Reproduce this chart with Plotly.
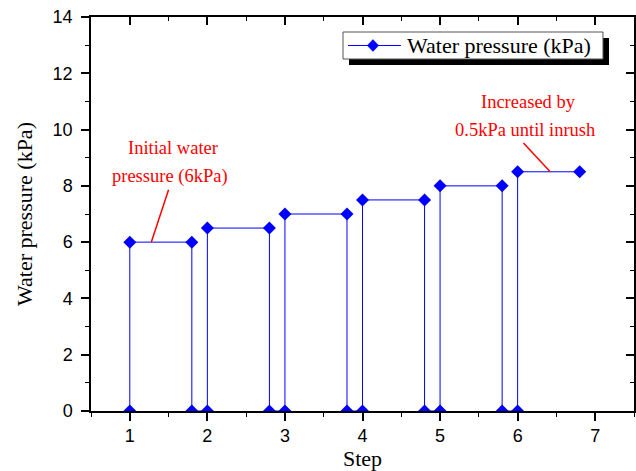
import plotly.graph_objects as go

# Data
step_x = [1, 1, 1.8, 1.8, 2, 2, 2.8, 2.8, 3, 3, 3.8, 3.8,
          4, 4, 4.8, 4.8, 5, 5, 5.8, 5.8, 6, 6, 6.8]
pressure_y = [0, 6, 6, 0, 0, 6.5, 6.5, 0, 0, 7, 7, 0,
              0, 7.5, 7.5, 0, 0, 8, 8, 0, 0, 8.5, 8.5]
x_ticks = [1, 2, 3, 4, 5, 6, 7]
y_ticks = [0, 2, 4, 6, 8, 10, 12, 14]
series_name = "Water pressure (kPa)"

SERIF = "Liberation Serif, Times New Roman, serif"
SANS = "Liberation Sans, Arial, sans-serif"
BLUE = "#0000FF"
RED = "#FF0000"

fig = go.Figure()
fig.add_trace(go.Scatter(
    x=step_x, y=pressure_y, mode="lines+markers",
    name=series_name, showlegend=False,
    line=dict(color=BLUE, width=1),
    marker=dict(symbol="diamond", size=10, color=BLUE),
))
# invisible trace so mirrored top/right axes (inward ticks) are drawn
fig.add_trace(go.Scatter(x=[1], y=[1], xaxis="x2", yaxis="y2", mode="markers",
                         marker=dict(opacity=0), showlegend=False, hoverinfo="skip"))

axis_common = dict(showgrid=False, zeroline=False, showline=True,
                   linecolor="black", linewidth=1.5, automargin=False)

fig.update_layout(
    width=636, height=471,
    margin=dict(l=91, r=2, t=17, b=60),
    paper_bgcolor="white", plot_bgcolor="white",
    showlegend=False,
    xaxis=dict(range=[0.5, 7.5], tickvals=x_ticks, ticks="outside", ticklen=8,
               tickwidth=1.5, tickcolor="black", ticklabelstandoff=0,
               minor=dict(dtick=0.5, ticks="outside", ticklen=4, tickwidth=1.2, tickcolor="black"),
               tickfont=dict(family=SANS, size=18, color="black"),
               title=dict(text="Step", font=dict(family=SERIF, size=22, color="black"), standoff=10),
               **axis_common),
    yaxis=dict(range=[0, 14], tickvals=y_ticks, ticks="outside", ticklen=8,
               tickwidth=1.5, tickcolor="black", ticklabelstandoff=5,
               minor=dict(dtick=1, ticks="outside", ticklen=4, tickwidth=1.2, tickcolor="black"),
               tickfont=dict(family=SANS, size=18, color="black"),
               title=dict(text="Water pressure (kPa)", font=dict(family=SERIF, size=22, color="black"), standoff=14),
               **axis_common),
    xaxis2=dict(range=[0.5, 7.5], overlaying="x", side="top", tickvals=x_ticks,
                ticks="inside", ticklen=8, tickwidth=1.5, tickcolor="black",
                minor=dict(dtick=0.5, ticks="inside", ticklen=4, tickwidth=1.2, tickcolor="black"),
                showticklabels=False, **axis_common),
    yaxis2=dict(range=[0, 14], overlaying="y", side="right", tickvals=y_ticks,
                ticks="inside", ticklen=8, tickwidth=1.5, tickcolor="black",
                minor=dict(dtick=1, ticks="inside", ticklen=4, tickwidth=1.2, tickcolor="black"),
                showticklabels=False, **axis_common),
)

# ---- hand-drawn legend box (paper coordinates) with drop shadow ----
fig.add_shape(type="rect", xref="paper", yref="paper",
              x0=0.4751, x1=0.9540, y0=0.8782, y1=0.9467,
              fillcolor="black", line=dict(width=0), layer="above")
fig.add_shape(type="rect", xref="paper", yref="paper",
              x0=0.4641, x1=0.9429, y0=0.8934, y1=0.9619,
              fillcolor="white", line=dict(color="#555555", width=1), layer="above")
fig.add_shape(type="line", xref="paper", yref="paper",
              x0=0.4733, x1=0.5709, y0=0.9277, y1=0.9277,
              line=dict(color=BLUE, width=1), layer="above")
cx, cy, hx, hy = 0.5193, 0.9277, 0.0105, 0.0150
fig.add_shape(type="path", xref="paper", yref="paper",
              path=f"M {cx-hx} {cy} L {cx} {cy+hy} L {cx+hx} {cy} L {cx} {cy-hy} Z",
              fillcolor=BLUE, line=dict(color=BLUE, width=0.5), layer="above")
fig.add_annotation(xref="paper", yref="paper", x=0.578, y=0.9277,
                   text=series_name, showarrow=False, xanchor="left", yanchor="middle",
                   font=dict(family=SERIF, size=22, color="black"))

# annotation pointer lines
fig.add_shape(type="line", x0=1.277, y0=6, x1=1.50, y1=7.86,
              line=dict(color=RED, width=1.5))
fig.add_shape(type="line", x0=6.075, y0=9.52, x1=6.42, y1=8.5,
              line=dict(color=RED, width=1.5))

notes = [
    ("Initial water", 1.554, 9.35),
    ("pressure (6kPa)", 1.523, 8.32),
    ("Increased by", 6.135, 10.97),
    ("0.5kPa until inrush", 6.097, 9.99),
]
for txt, ax_, ay_ in notes:
    fig.add_annotation(x=ax_, y=ay_, text=txt, showarrow=False,
                       xanchor="center", yanchor="middle",
                       font=dict(family=SERIF, size=18.5, color=RED))

fig.write_html("out.html")
